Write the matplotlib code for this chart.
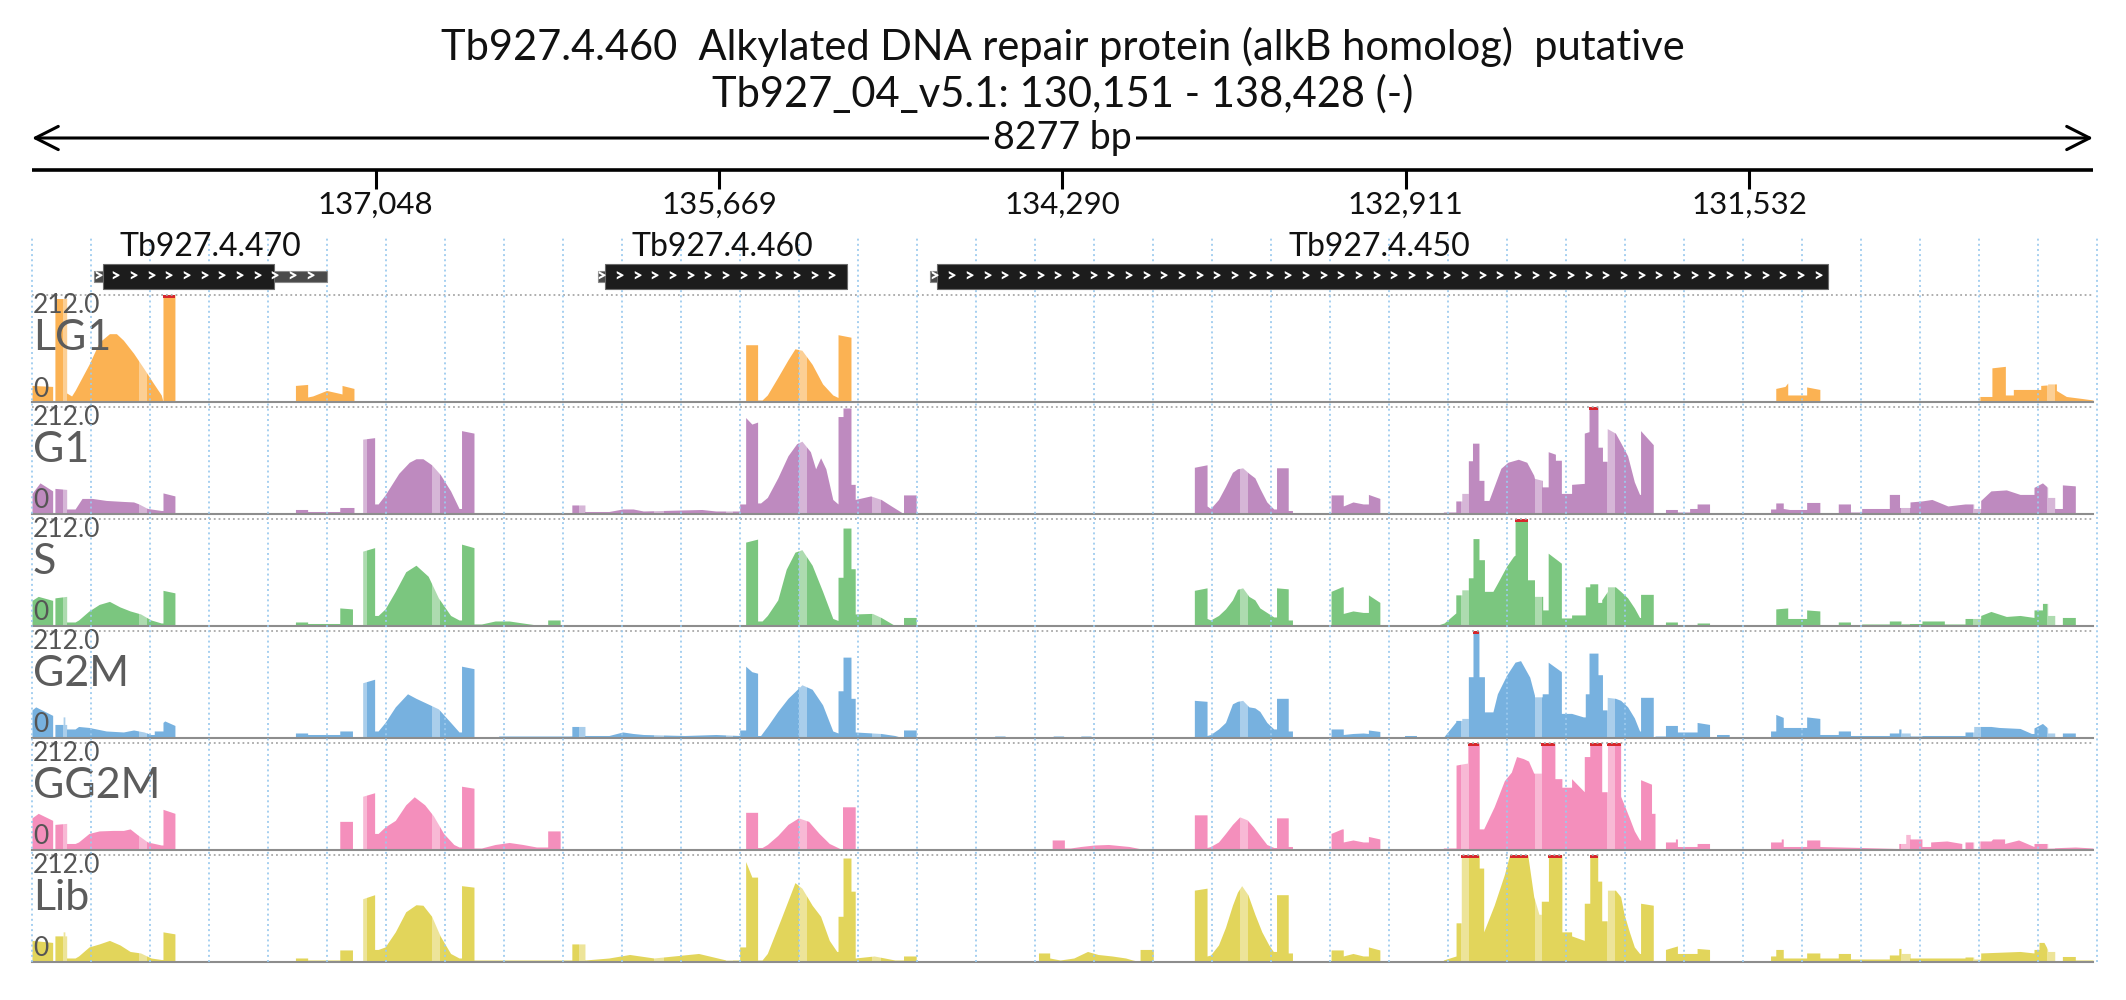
import numpy as np
import matplotlib
matplotlib.use("Agg")
import matplotlib.pyplot as plt
from matplotlib.patches import Rectangle

plt.rcParams['font.family'] = ['Lato', 'DejaVu Sans']

# ---------------- data ----------------
CHROM = 'Tb927_04_v5.1'
VIEW_START = 130151
VIEW_END = 138428
STRAND = '-'
TITLE = 'Tb927.4.460  Alkylated DNA repair protein (alkB homolog)  putative'
TICKS = [137048, 135669, 134290, 132911, 131532]
MAX_Y = 212.0
GRID_STEP = 237

GENE_NAMES = ['Tb927.4.470', 'Tb927.4.460', 'Tb927.4.450']
GENE_LO = [137244, 135155, 131214]
GENE_HI = [138178, 136155, 134821]
CDS_LO = [137456, 135155, 131214]
CDS_HI = [138144, 136127, 134793]

TRACK_NAMES = ['LG1', 'G1', 'S', 'G2M', 'GG2M', 'Lib']
TRACK_COLORS = ['#FBB253', '#BE8ABF', '#7BC67F', '#77B1DF', '#F48FBC', '#E2D55B']

# coverage profiles: (bp offset from 138,428 along the minus strand view, coverage)
LG1 = [(0,0),(0,32),(83,30),(83,0),(92,0),(92,205),(139,205),(139,17),(159,11),(173,22),(229,74),(270,118),(311,135),(339,135),(367,122),(408,96),(450,65),(484,39),(519,13),(526,0),(526,230),(574,230),(574,0),
       (1058,0),(1058,32),(1107,34),(1107,9),(1127,11),(1183,22),(1237,16),(1245,15),(1245,32),(1293,26),(1293,0),
       (2866,0),(2866,113),(2914,113),(2914,3),(2932,3),(2953,13),(2995,48),(3036,83),(3064,105),(3092,102),(3133,74),(3175,35),(3216,13),(3237,8),(3237,133),(3289,128),(3289,0),
       (6256,0),(6256,2),(6318,2),(6318,0),
       (7003,0),(7003,26),(7040,30),(7051,37),(7051,13),(7127,13),(7127,29),(7180,24),(7180,0),
       (7819,0),(7819,10),(7871,10),(7871,67),(7925,70),(7925,13),(7957,13),(7957,24),(8067,24),(8067,32),(8095,33),(8095,35),(8130,35),(8130,22),(8170,10),(8233,6),(8277,3),(8277,0)]

G1 = [(0,0),(0,40),(32,61),(83,45),(83,0),(92,0),(92,50),(139,48),(139,9),(173,9),(201,30),(242,30),(298,26),(367,24),(408,23),(429,19),(464,10),(519,6),(526,6),(526,41),(574,35),(574,2),(671,2),(671,0),
      (1058,0),(1058,8),(1107,8),(1107,4),(1236,4),(1236,12),(1293,12),(1293,0),
      (1328,0),(1328,148),(1376,151),(1376,19),(1390,19),(1418,37),(1473,80),(1515,102),(1542,109),(1570,109),(1605,97),(1639,78),(1681,45),(1715,10),(1725,10),(1725,165),(1775,160),(1775,2),(2121,2),(2121,0),
      (2168,0),(2168,17),(2220,17),(2220,4),(2317,4),(2372,9),(2414,9),(2455,5),(2690,8),(2746,5),(2842,5),(2842,19),(2866,19),(2866,191),(2891,178),(2914,182),(2914,21),(2926,21),(2953,32),(2995,71),(3036,115),(3071,139),(3092,144),(3126,123),(3147,89),(3167,111),(3188,89),(3216,28),(3237,19),(3237,193),(3257,193),(3257,210),(3289,210),(3289,58),(3306,58),(3306,28),(3368,35),(3410,28),(3451,15),(3493,2),(3500,2),(3500,37),(3551,37),(3551,0),
      (4101,0),(4101,2),(4267,2),(4267,0),
      (4668,0),(4668,92),(4719,97),(4719,15),(4733,10),(4765,28),(4793,54),(4821,82),(4841,89),(4862,91),(4887,80),(4911,71),(4931,50),(4959,23),(4987,9),(4998,9),(4998,91),(5045,91),(5045,6),(5062,6),(5062,0),
      (5217,0),(5217,37),(5266,37),(5266,15),(5305,23),(5346,19),(5367,19),(5367,38),(5413,30),(5413,0),
      (5668,0),(5668,3),(5718,3),(5718,25),(5742,25),(5742,40),(5768,40),(5768,105),(5785,105),(5785,140),(5811,140),(5811,66),(5831,66),(5831,26),(5851,26),(5872,54),(5899,90),(5927,102),(5969,108),(6003,102),(6031,76),(6034,70),(6065,66),(6065,53),(6089,53),(6089,123),(6118,118),(6118,106),(6142,106),(6142,40),(6183,40),(6183,58),(6234,60),(6234,160),(6253,163),(6253,230),(6289,230),(6289,132),(6307,132),(6307,104),(6326,104),(6326,169),(6359,160),(6380,141),(6408,115),(6435,63),(6456,38),(6460,38),(6460,165),(6511,137),(6511,0),
      (6560,0),(6560,8),(6608,8),(6608,3),(6657,3),(6657,10),(6687,10),(6687,19),(6737,19),(6737,0),
      (6982,0),(6982,9),(7003,9),(7003,21),(7033,21),(7033,10),(7058,8),(7127,8),(7127,22),(7180,22),(7180,2),(7231,2),(7231,0),(7254,0),(7254,19),(7303,19),(7303,3),(7348,3),(7348,10),(7459,10),(7459,38),(7500,38),(7500,12),(7542,12),(7542,23),(7590,25),(7630,28),(7694,15),(7763,19),(7798,19),(7798,10),(7826,10),(7826,26),(7867,45),(7929,47),(7984,38),(8040,38),(8040,52),(8074,61),(8095,52),(8095,32),(8123,32),(8123,10),(8154,10),(8154,57),(8206,55),(8206,2),(8277,2),(8277,0)]

S = [(0,0),(0,50),(25,58),(83,50),(83,0),(92,0),(92,55),(139,58),(139,7),(173,7),(187,11),(229,29),(270,42),(311,48),(353,37),(394,29),(436,23),(478,11),(519,5),(526,5),(526,70),(574,65),(574,0),(637,0),(637,2),(685,2),(685,0),
     (1058,0),(1058,7),(1107,7),(1107,4),(1236,4),(1236,35),(1287,33),(1287,0),
     (1328,0),(1328,148),(1376,155),(1376,20),(1390,20),(1418,33),(1459,68),(1501,107),(1542,120),(1591,98),(1632,55),(1681,20),(1715,11),(1725,11),(1725,162),(1775,155),(1775,3),(1805,3),(1860,9),(1916,9),(1971,5),(2013,2),(2026,0),(2071,0),(2071,11),(2121,11),(2121,0),
     (2866,0),(2866,166),(2914,172),(2914,9),(2932,9),(2953,20),(2995,51),(3029,112),(3064,146),(3092,151),(3133,120),(3175,68),(3216,14),(3237,10),(3237,96),(3257,96),(3257,194),(3289,194),(3289,113),(3306,113),(3306,23),(3368,24),(3375,24),(3410,16),(3465,0),(3500,0),(3500,16),(3551,16),(3551,0),
     (4668,0),(4668,70),(4719,75),(4719,14),(4733,11),(4765,20),(4793,33),(4821,51),(4841,72),(4862,75),(4887,58),(4911,51),(4931,35),(4959,26),(4987,17),(4998,17),(4998,75),(5045,73),(5045,11),(5062,11),(5062,0),
     (5217,0),(5217,68),(5260,77),(5266,77),(5266,24),(5305,29),(5346,26),(5367,26),(5367,61),(5413,46),(5413,0),
     (5640,0),(5671,5),(5718,25),(5718,61),(5742,61),(5742,71),(5768,71),(5768,95),(5787,95),(5787,173),(5811,173),(5811,131),(5833,131),(5833,68),(5867,68),(5885,84),(5922,118),(5950,138),(5956,140),(5956,230),(6006,230),(6006,91),(6034,91),(6034,58),(6067,58),(6067,31),(6089,31),(6089,144),(6142,124),(6142,15),(6183,15),(6183,21),(6238,21),(6238,77),(6256,77),(6256,83),(6288,83),(6288,46),(6304,46),(6304,51),(6327,68),(6327,77),(6359,77),(6380,68),(6408,55),(6435,35),(6456,16),(6460,16),(6460,62),(6511,62),(6511,0),
     (6560,0),(6560,7),(6608,7),(6608,2),(6687,2),(6687,5),(6737,5),(6737,0),
     (7003,0),(7003,33),(7051,35),(7051,14),(7127,14),(7127,31),(7180,29),(7180,0),
     (7254,0),(7254,7),(7303,7),(7303,0),(7348,0),(7348,3),(7459,3),(7459,9),(7507,9),(7507,4),(7590,4),(7590,9),(7680,9),(7680,3),(7763,3),(7763,14),(7826,14),(7826,20),(7867,28),(7929,18),(7984,20),(8040,16),(8040,31),(8074,31),(8074,44),(8095,44),(8095,20),(8123,20),(8123,0),(8154,0),(8154,16),(8206,16),(8206,0)]

G2M = [(0,0),(0,55),(15,61),(83,44),(83,0),(92,0),(92,26),(125,26),(125,41),(132,41),(132,26),(139,26),(139,17),(173,17),(187,22),(229,20),(298,13),(367,11),(408,15),(450,11),(478,6),(491,6),(491,13),(526,13),(526,30),(533,33),(574,24),(574,0),
       (1058,0),(1058,9),(1107,9),(1107,6),(1236,6),(1236,13),(1287,13),(1287,0),
       (1328,0),(1328,109),(1376,116),(1376,13),(1390,13),(1418,30),(1459,61),(1508,87),(1542,78),(1598,65),(1632,57),(1681,30),(1715,11),(1725,11),(1725,142),(1775,137),(1775,0),(1874,0),(1874,3),(2168,3),
       (2168,22),(2220,22),(2220,4),(2317,4),(2372,11),(2414,8),(2455,6),(2621,4),(2746,6),(2842,4),(2842,15),(2866,15),(2866,142),(2891,131),(2914,128),(2914,4),(2926,4),(2953,22),(2995,52),(3036,78),(3092,105),(3133,96),(3175,65),(3216,13),(3237,9),(3237,93),(3257,93),(3257,160),(3289,160),(3289,78),(3306,78),(3306,11),(3410,8),(3465,4),(3493,0),(3500,0),(3500,15),(3551,15),(3551,0),
       (3866,0),(3866,3),(3908,3),(3908,0),(4101,0),(4101,3),(4143,3),(4143,0),(4212,0),(4212,3),(4253,3),(4253,0),
       (4668,0),(4668,74),(4719,72),(4719,4),(4733,6),(4765,17),(4793,30),(4821,67),(4841,72),(4862,74),(4887,61),(4911,59),(4931,52),(4959,30),(4987,17),(4998,17),(4998,78),(5045,78),(5045,13),(5062,13),(5062,0),
       (5217,0),(5217,17),(5266,17),(5266,6),(5305,8),(5346,9),(5367,8),(5367,15),(5413,12),(5413,0),
       (5512,0),(5512,4),(5560,4),(5560,0),
       (5640,0),(5671,2),(5718,31),(5718,34),(5742,34),(5742,38),(5768,38),(5768,121),(5787,121),(5787,230),(5811,230),(5811,121),(5833,121),(5833,51),(5867,51),(5885,87),(5922,124),(5956,150),(5978,153),(6015,120),(6034,84),(6034,81),(6065,81),(6065,87),(6089,87),(6089,150),(6142,131),(6142,48),(6183,48),(6230,41),(6238,41),(6238,87),(6253,87),(6253,168),(6289,168),(6289,125),(6307,125),(6307,55),(6326,55),(6326,80),(6359,78),(6380,74),(6408,61),(6435,39),(6456,13),(6460,13),(6460,80),(6511,80),(6511,0),
       (6518,0),(6518,3),(6560,3),(6560,24),(6608,24),(6608,11),(6687,11),(6687,30),(6737,26),(6737,0),(6765,0),(6765,6),(6816,6),(6816,0),
       (6982,0),(6982,13),(7003,13),(7003,46),(7033,40),(7033,20),(7127,20),(7127,41),(7180,38),(7180,6),(7254,6),(7254,13),(7303,13),(7303,4),(7459,4),(7459,9),(7497,9),(7497,17),(7507,17),(7507,9),(7542,9),(7542,3),(7590,3),(7590,4),(7763,4),(7763,11),(7798,11),(7798,22),(7867,22),(7900,20),(7984,18),(8030,8),(8040,8),(8040,19),(8074,28),(8095,19),(8095,9),(8123,9),(8123,0),(8154,0),(8154,9),(8206,9),(8206,0)]

GG2M = [(0,0),(0,63),(25,72),(83,58),(83,0),(92,0),(92,50),(139,52),(139,12),(173,12),(187,15),(229,32),(270,37),(325,38),(367,38),(394,41),(422,30),(464,15),(519,9),(526,9),(526,80),(574,72),(574,0),
        (1236,0),(1236,56),(1287,56),(1287,2),(1328,2),(1328,106),(1376,113),(1376,32),(1390,32),(1418,45),(1459,58),(1501,89),(1535,105),(1577,89),(1612,67),(1653,32),(1694,10),(1715,5),(1725,5),(1725,126),(1775,122),(1775,3),(1805,3),(1860,10),(1916,14),(1971,10),(2026,5),(2071,5),(2071,37),(2121,37),(2121,0),
        (2866,0),(2866,74),(2914,74),(2914,4),(2932,4),(2953,10),(2995,28),(3036,50),(3078,63),(3119,56),(3161,32),(3202,12),(3244,2),(3255,2),(3255,85),(3306,85),(3306,0),
        (4097,0),(4097,19),(4146,19),(4146,3),(4170,3),(4212,6),(4267,9),(4323,10),(4406,6),(4447,2),(4447,0),
        (4668,0),(4668,69),(4719,69),(4719,4),(4733,6),(4765,15),(4793,32),(4821,50),(4850,65),(4880,59),(4905,45),(4931,28),(4959,10),(4987,4),(4998,4),(4998,63),(5045,63),(5045,6),(5062,6),(5062,0),
        (5217,0),(5217,32),(5260,41),(5266,41),(5266,15),(5305,19),(5346,15),(5367,15),(5367,26),(5413,21),(5413,0),
        (5668,0),(5668,3),(5719,3),(5719,168),(5740,170),(5765,172),(5765,230),(5812,230),(5812,41),(5830,41),(5872,85),(5913,137),(5941,154),(5962,185),(5989,181),(6010,176),(6031,152),(6061,152),(6061,230),(6116,230),(6116,141),(6144,141),(6144,124),(6183,124),(6183,141),(6234,115),(6234,185),(6256,185),(6256,230),(6304,230),(6304,115),(6327,115),(6327,230),(6380,230),(6380,106),(6394,89),(6415,63),(6435,37),(6456,19),(6460,19),(6460,139),(6504,130),(6504,72),(6518,72),(6518,0),
        (6560,0),(6560,15),(6600,15),(6600,21),(6608,21),(6608,6),(6687,6),(6687,12),(6737,12),(6737,0),
        (6982,0),(6982,15),(7025,15),(7025,21),(7033,21),(7033,6),(7127,6),(7127,19),(7180,19),(7180,6),(7348,4),(7497,2),(7497,12),(7525,12),(7525,30),(7542,30),(7542,21),(7590,21),(7590,6),(7625,6),(7625,15),(7690,17),(7750,12),(7750,0),(7763,0),(7763,15),(7798,15),(7798,0),(7819,0),(7819,17),(7867,17),(7874,21),(7922,21),(7922,12),(7978,19),(8040,6),(8040,12),(8095,12),(8095,3),(8206,5),(8277,3),(8277,0)]

LIB = [(0,0),(0,42),(83,38),(83,0),(92,0),(92,51),(125,51),(125,59),(132,59),(132,51),(139,51),(139,7),(173,7),(187,11),(229,29),(270,35),(311,42),(353,33),(394,20),(436,17),(478,7),(519,4),(526,4),(526,59),(574,55),(574,0),
       (1058,0),(1058,7),(1107,7),(1107,3),(1236,3),(1236,23),(1287,23),(1287,0),
       (1328,0),(1328,125),(1376,133),(1376,24),(1390,24),(1418,29),(1459,59),(1501,99),(1542,113),(1570,112),(1605,90),(1639,51),(1681,16),(1715,7),(1725,7),(1725,151),(1775,148),(1775,3),(2168,3),(2168,35),(2220,35),(2220,3),(2317,7),(2400,14),(2497,7),(2677,16),(2787,3),(2842,3),(2842,29),(2866,29),(2866,199),(2891,168),(2914,168),(2914,3),(2932,3),(2953,16),(3008,85),(3064,157),(3092,146),(3133,112),(3167,90),(3202,42),(3232,20),(3237,20),(3237,90),(3257,90),(3257,206),(3289,206),(3289,140),(3306,140),(3306,7),(3382,11),(3465,3),(3500,3),(3500,11),(3551,11),(3551,0),
       (4042,0),(4042,17),(4087,17),(4087,7),(4129,3),(4184,7),(4239,20),(4281,14),(4337,11),(4392,7),(4420,3),(4447,0),(4450,0),(4450,24),(4503,24),(4503,0),
       (4668,0),(4668,142),(4719,146),(4719,11),(4733,13),(4765,33),(4793,68),(4821,112),(4841,138),(4858,151),(4883,133),(4911,94),(4939,59),(4967,33),(4985,20),(4998,20),(4998,133),(5045,133),(5045,17),(5062,17),(5062,0),
       (5217,0),(5217,23),(5266,23),(5266,11),(5305,16),(5346,11),(5367,11),(5367,29),(5413,23),(5413,0),
       (5668,0),(5668,3),(5719,11),(5719,77),(5740,77),(5740,230),(5812,230),(5812,186),(5830,186),(5830,59),(5872,112),(5913,173),(5934,230),(6007,230),(6031,129),(6052,94),(6061,94),(6061,120),(6090,120),(6090,230),(6144,230),(6144,59),(6183,59),(6183,51),(6234,42),(6234,116),(6256,116),(6256,230),(6288,230),(6288,160),(6304,160),(6304,81),(6327,81),(6327,142),(6359,142),(6380,129),(6394,94),(6415,59),(6435,29),(6456,16),(6460,16),(6460,116),(6511,112),(6511,0),
       (6560,0),(6560,24),(6608,31),(6608,16),(6687,16),(6687,26),(6737,24),(6737,0),
       (6982,0),(6982,11),(7003,11),(7003,24),(7033,24),(7033,7),(7127,7),(7127,17),(7180,17),(7180,7),(7254,7),(7254,16),(7303,16),(7303,5),(7459,5),(7459,13),(7497,13),(7497,26),(7507,26),(7507,16),(7542,16),(7542,7),(7763,7),(7763,9),(7798,9),(7798,5),(7826,5),(7826,17),(7984,20),(8040,17),(8040,24),(8060,24),(8060,38),(8080,38),(8095,24),(8095,20),(8123,20),(8123,0),(8154,0),(8154,10),(8206,10),(8206,3),(8277,3),(8277,0)]

TRACK_DATA = [LG1, G1, S, G2M, GG2M, LIB]

# lighter bands (bp offsets)
STRIPES = [(125,139),(430,462),(1328,1346),(1605,1639),(2196,2220),(2497,2539),(2787,2815),(3081,3113),
           (3374,3410),(4851,4884),(5740,5772),(6035,6065),(6326,6359),(7507,7542),(7796,7826),(8093,8123)]

# ---------------- layout ----------------
W, H = 2126, 1000
fig = plt.figure(figsize=(W / 100, H / 100), dpi=100)
fig.patch.set_facecolor('white')

LEFT, RIGHT = 32, 2093
XL = (VIEW_END, VIEW_START)


def box(px_left, px_top, px_w, px_h):
    return [px_left / W, 1 - (px_top + px_h) / H, px_w / W, px_h / H]


# grid overlay (drawn above the coverage tracks, below the gene models)
ax_g = fig.add_axes(box(LEFT, 237, RIGHT - LEFT, 962 - 237))
ax_g.set_xlim(*XL)
ax_g.set_ylim(0, 1)
ax_g.axis('off')
ax_g.set_zorder(5)
grid_x = [VIEW_END - k * GRID_STEP for k in range(36)]
ax_g.vlines(grid_x, 0, 1, colors='#9ccaee', lw=1.4, linestyles=':', clip_on=False, alpha=0.9)

# ruler / genes axes (y in pixels from top)
ax_r = fig.add_axes(box(LEFT, 0, RIGHT - LEFT, 300))
ax_r.set_xlim(*XL)
ax_r.set_ylim(300, 0)
ax_r.axis('off')
ax_r.set_zorder(6)

fig.text(0.5, 1 - 47 / H, TITLE, ha='center', va='center', fontsize=30, color='#111111')
fig.text(0.5, 1 - 94 / H, f'{CHROM}: {VIEW_START:,} - {VIEW_END:,} ({STRAND})',
         ha='center', va='center', fontsize=30, color='#111111')

ax_r.annotate('', xy=(VIEW_START, 138), xytext=(VIEW_END, 138),
              arrowprops=dict(arrowstyle='<->,head_length=0.75,head_width=0.38', lw=2.2,
                              color='black', shrinkA=0, shrinkB=0, mutation_scale=22),
              annotation_clip=False)
ax_r.text((VIEW_START + VIEW_END) / 2, 138, f'{VIEW_END - VIEW_START} bp', ha='center', va='center',
          fontsize=27, color='#111111', bbox=dict(fc='white', ec='none', pad=3))

ax_r.plot([VIEW_END, VIEW_START], [170, 170], color='black', lw=2.6, solid_capstyle='butt', clip_on=False)
ax_r.vlines(TICKS, 170, 189, color='black', lw=2.2)
for t in TICKS:
    ax_r.text(t, 205, f'{t:,}', ha='center', va='center', fontsize=22.5, color='#111111')

for name, glo, ghi, clo, chi in zip(GENE_NAMES, GENE_LO, GENE_HI, CDS_LO, CDS_HI):
    ax_r.add_patch(Rectangle((glo, 270.8), ghi - glo, 11, fc='#4a4a4a', ec='#8a8a8a', lw=0.8, zorder=2))
    ax_r.add_patch(Rectangle((clo, 264), chi - clo, 24.5, fc='#1c1c1c', ec='#6a6a6a', lw=0.8, zorder=3))
    ax_r.text((glo + ghi) / 2, 247, name, ha='center', va='center', fontsize=23, color='#111111')
    p = ghi - 14
    while p > glo + 12:
        ax_r.text(p, 276.5, '>', ha='center', va='center', fontsize=12, fontweight='heavy',
                  color='white', family='Lato', zorder=4)
        p -= 71

# tracks
TOP0, PITCH, TH = 295, 112, 106.5
for i, (name, data, color) in enumerate(zip(TRACK_NAMES, TRACK_DATA, TRACK_COLORS)):
    top = TOP0 + i * PITCH
    ax = fig.add_axes(box(LEFT, top, RIGHT - LEFT, TH))
    ax.set_xlim(*XL)
    ax.set_ylim(0, MAX_Y)
    ax.axis('off')
    off = np.array([p for p, _ in data], dtype=float)
    cov = np.array([v for _, v in data], dtype=float)
    x = VIEW_END - off
    ax.fill_between(x, 0, np.minimum(cov, MAX_Y), color=color, lw=0, zorder=1)
    for a, b in STRIPES:
        ax.axvspan(VIEW_END - a, VIEW_END - b, color='white', alpha=0.38, lw=0, zorder=2)
    ax.fill_between(x, MAX_Y - 6, MAX_Y, where=cov > MAX_Y, color='#d7262b', lw=0, zorder=3)
    ax.axhline(0, color='#8d8d8d', lw=1.5, clip_on=False, zorder=4)
    ax.axhline(MAX_Y, color='#a8a8a8', lw=1.3, ls=':', clip_on=False, zorder=4)
    fig.text(33 / W, 1 - (top + 18) / H, f'{MAX_Y:.1f}', ha='left', va='baseline', fontsize=19, color='#555555')
    fig.text(33 / W, 1 - (top + 55) / H, name, ha='left', va='baseline', fontsize=31, color='#5c5c5c')
    fig.text(33 / W, 1 - (top + TH - 5) / H, '0', ha='left', va='baseline', fontsize=19, color='#555555')

fig.savefig('out.png', dpi=100, facecolor='white')
